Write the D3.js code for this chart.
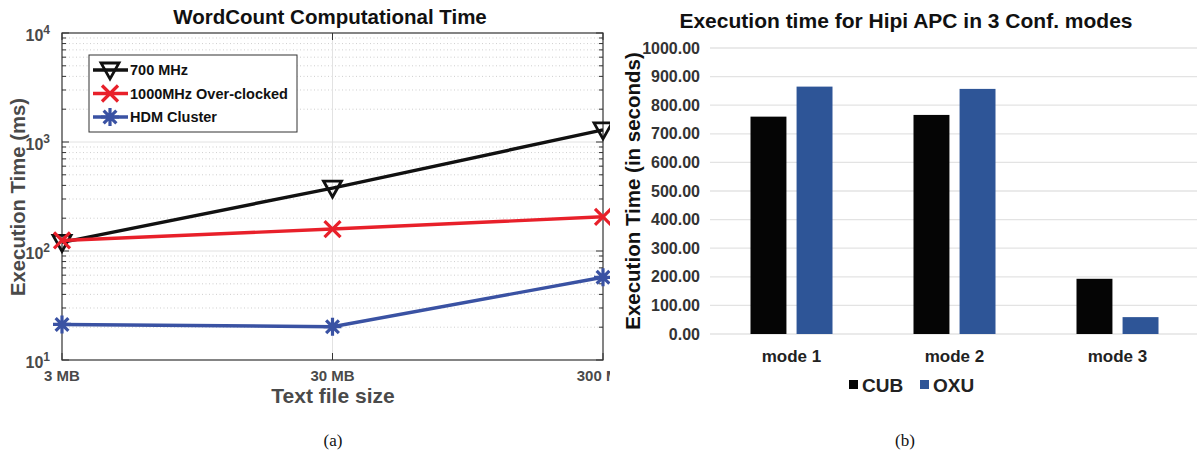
<!DOCTYPE html>
<html><head><meta charset="utf-8"><title>WordCount / Hipi APC</title>
<style>
    body { margin: 0; background: #fff; }
    svg { display: block; }
    text { font-family: 'Liberation Sans', Arial, sans-serif; font-weight: bold; }
    .cap { font-family: 'Liberation Serif', 'Times New Roman', serif; font-weight: normal; }
</style>
<script src="https://cdnjs.cloudflare.com/ajax/libs/d3/7.8.5/d3.min.js"></script>
</head>
<body>
<svg id="fig" width="1198" height="454"></svg>
<script>
// (a) WordCount computational time, log-log
const fileSizes = [3, 30, 300];
const fileLabels = ["3 MB", "30 MB", "300 MB"];
const seriesA = ["700 MHz", "1000MHz Over-clocked", "HDM Cluster"];
const t700 = [120, 378, 1290];
const t1000 = [125, 159, 206];
const tHdm = [21.2, 20.2, 57.4];
const yDecades = [10, 100, 1000, 10000];

// (b) Hipi APC execution time
const modes = ["mode 1", "mode 2", "mode 3"];
const seriesB = ["CUB", "OXU"];
const cub = [760, 766, 193];
const oxu = [865, 857, 59];
const yTicksB = [0, 100, 200, 300, 400, 500, 600, 700, 800, 900, 1000];

const svg = d3.select("#fig");

// ---------- left panel ----------
const L = { left: 62, right: 603, top: 33, bottom: 360 };
const x = d3.scaleLog().domain([3, 300]).range([L.left, L.right]);
const y = d3.scaleLog().domain([10, 10000]).range([L.bottom, L.top]);
const gA = svg.append("g");

// minor grid (dotted)
const minors = [];
yDecades.slice(0, -1).forEach(d => { for (let k = 2; k <= 9; k++) minors.push(d * k); });
gA.append("g").selectAll("line").data(minors).enter().append("line")
    .attr("x1", L.left).attr("x2", L.right)
    .attr("y1", d => y(d)).attr("y2", d => y(d))
    .attr("stroke", "#cfcfcf").attr("stroke-dasharray", "1,2.5");
// major grid
gA.append("g").selectAll("line").data(yDecades.slice(1, -1)).enter().append("line")
    .attr("x1", L.left).attr("x2", L.right)
    .attr("y1", d => y(d)).attr("y2", d => y(d))
    .attr("stroke", "#e2e2e2");
gA.append("line")
    .attr("x1", x(30)).attr("x2", x(30)).attr("y1", L.top).attr("y2", L.bottom)
    .attr("stroke", "#e2e2e2");

// ticks on left and right sides
[L.left, L.right].forEach((ax, i) => {
    const dir = i === 0 ? 1 : -1;
    gA.append("g").selectAll("line").data(minors).enter().append("line")
        .attr("x1", ax).attr("x2", ax + dir * 4)
        .attr("y1", d => y(d)).attr("y2", d => y(d))
        .attr("stroke", "#333");
    gA.append("g").selectAll("line").data(yDecades).enter().append("line")
        .attr("x1", ax).attr("x2", ax + dir * 7)
        .attr("y1", d => y(d)).attr("y2", d => y(d))
        .attr("stroke", "#333");
});
[L.bottom, L.top].forEach((ay, i) => {
    const dir = i === 0 ? -1 : 1;
    gA.append("g").selectAll("line").data(fileSizes).enter().append("line")
        .attr("x1", d => x(d)).attr("x2", d => x(d))
        .attr("y1", ay).attr("y2", ay + dir * 7)
        .attr("stroke", "#333");
});

// box
gA.append("rect")
    .attr("x", L.left).attr("y", L.top)
    .attr("width", L.right - L.left).attr("height", L.bottom - L.top)
    .attr("fill", "none").attr("stroke", "#333").attr("stroke-width", 1.2);

// y tick labels 10^n
const yl = gA.append("g").selectAll("text").data(yDecades).enter().append("text")
    .attr("x", 50).attr("y", d => y(d) + 8)
    .attr("text-anchor", "end").attr("fill", "#4a4a4a").attr("font-size", 16);
yl.append("tspan").text("10");
yl.append("tspan").attr("dy", -7).attr("font-size", 12).text(d => Math.round(Math.log10(d)));

// x tick labels
gA.append("g").selectAll("text").data(fileSizes).enter().append("text")
    .attr("x", d => x(d)).attr("y", 381)
    .attr("text-anchor", "middle").attr("fill", "#4a4a4a").attr("font-size", 15)
    .text((d, i) => fileLabels[i]);

gA.append("text").attr("x", 330).attr("y", 24).attr("text-anchor", "middle")
    .attr("font-size", 20.5).attr("fill", "#111").text("WordCount Computational Time");
gA.append("text").attr("x", 333).attr("y", 403).attr("text-anchor", "middle")
    .attr("font-size", 21).attr("fill", "#4a4a4a").text("Text file size");
gA.append("text").attr("transform", "translate(25,197) rotate(-90)").attr("text-anchor", "middle")
    .attr("font-size", 20.3).attr("fill", "#4a4a4a").text("Execution Time (ms)");

// markers
function drawMarker(g, type, cx, cy, color) {
    if (type === "tri") {
        g.append("path")
            .attr("d", `M${cx - 9},${cy - 7}L${cx + 9},${cy - 7}L${cx},${cy + 9}Z`)
            .attr("fill", "none").attr("stroke", color).attr("stroke-width", 2.8);
    } else if (type === "x") {
        g.append("path")
            .attr("d", `M${cx - 8},${cy - 8}L${cx + 8},${cy + 8}M${cx - 8},${cy + 8}L${cx + 8},${cy - 8}`)
            .attr("stroke", color).attr("stroke-width", 3.2);
    } else {
        let p = "";
        for (let k = 0; k < 4; k++) {
            const a = k * Math.PI / 4 + Math.PI / 2;
            const dx = 9 * Math.cos(a), dy = 9 * Math.sin(a);
            p += `M${cx - dx},${cy - dy}L${cx + dx},${cy + dy}`;
        }
        g.append("path").attr("d", p).attr("stroke", color).attr("stroke-width", 3.2);
    }
}

const lineDefs = [
    { name: seriesA[0], vals: t700, color: "#111111", mk: "tri" },
    { name: seriesA[1], vals: t1000, color: "#e8202a", mk: "x" },
    { name: seriesA[2], vals: tHdm, color: "#3a52a3", mk: "ast" }
];
const line = d3.line().x(d => x(d[0])).y(d => y(d[1]));
lineDefs.forEach(s => {
    const pts = fileSizes.map((f, i) => [f, s.vals[i]]);
    gA.append("path").attr("d", line(pts)).attr("fill", "none")
        .attr("stroke", s.color).attr("stroke-width", 3.4);
    pts.forEach(p => drawMarker(gA, s.mk, x(p[0]), y(p[1]), s.color));
});

// legend
const lg = gA.append("g");
lg.append("rect").attr("x", 89).attr("y", 55).attr("width", 208).attr("height", 77)
    .attr("fill", "#fff").attr("stroke", "#333");
lineDefs.forEach((s, i) => {
    const ly = 70 + i * 23.5;
    lg.append("line").attr("x1", 93).attr("x2", 128).attr("y1", ly).attr("y2", ly)
        .attr("stroke", s.color).attr("stroke-width", 3.4);
    drawMarker(lg, s.mk, 110, ly, s.color);
    lg.append("text").attr("x", 130).attr("y", ly + 5).attr("font-size", 14.5)
        .attr("fill", "#111").text(s.name);
});

// ---------- right panel ----------
const gB = svg.append("g");
gB.append("rect").attr("x", 610).attr("y", 0).attr("width", 588).attr("height", 420).attr("fill", "#fff");

const R = { left: 710, right: 1199, top: 48, bottom: 334 };
const yb = d3.scaleLinear().domain([0, 1000]).range([R.bottom, R.top]);
const xb = d3.scaleBand().domain(modes).range([R.left, R.right]);
const xs = d3.scaleBand().domain(seriesB).range([40.5, 122.5]).paddingInner(0.22);
const colorB = d3.scaleOrdinal().domain(seriesB).range(["#050505", "#2e5597"]);

gB.append("g").selectAll("line").data(yTicksB).enter().append("line")
    .attr("x1", R.left).attr("x2", 1197)
    .attr("y1", d => yb(d)).attr("y2", d => yb(d))
    .attr("stroke", "#e3e3e3").attr("stroke-width", 1.3);
gB.append("g").selectAll("text").data(yTicksB).enter().append("text")
    .attr("x", 700).attr("y", d => yb(d) + 5.5).attr("text-anchor", "end")
    .attr("font-size", 16).attr("font-weight", "normal").attr("fill", "#333")
    .text(d3.format(".2f"));

const valsB = { CUB: cub, OXU: oxu };
modes.forEach((m, i) => {
    seriesB.forEach(s => {
        gB.append("rect")
            .attr("x", xb(m) + xs(s)).attr("width", xs.bandwidth())
            .attr("y", yb(valsB[s][i])).attr("height", yb(0) - yb(valsB[s][i]))
            .attr("fill", colorB(s));
    });
});

gB.append("g").selectAll("text").data(modes).enter().append("text")
    .attr("x", d => xb(d) + xb.bandwidth() / 2).attr("y", 362)
    .attr("text-anchor", "middle").attr("font-size", 17).attr("fill", "#222")
    .text(d => d);

gB.append("text").attr("x", 906).attr("y", 28).attr("text-anchor", "middle")
    .attr("font-size", 21).attr("fill", "#111").text("Execution time for Hipi APC in 3 Conf. modes");
gB.append("text").attr("transform", "translate(640,191) rotate(-90)").attr("text-anchor", "middle")
    .attr("font-size", 20.5).attr("fill", "#111").text("Execution Time (in seconds)");

// legend b
const legB = [{ s: "CUB", x: 849 }, { s: "OXU", x: 920 }];
legB.forEach(d => {
    gB.append("rect").attr("x", d.x).attr("y", 380).attr("width", 9).attr("height", 9).attr("fill", colorB(d.s));
    gB.append("text").attr("x", d.x + 13).attr("y", 391.5).attr("font-size", 19).attr("fill", "#222").text(d.s);
});

// captions
svg.append("text").attr("class", "cap").attr("x", 333).attr("y", 446).attr("text-anchor", "middle")
    .attr("font-size", 17).attr("fill", "#111").text("(a)");
svg.append("text").attr("class", "cap").attr("x", 905).attr("y", 446).attr("text-anchor", "middle")
    .attr("font-size", 17).attr("fill", "#111").text("(b)");
</script>
</body>
</html>
